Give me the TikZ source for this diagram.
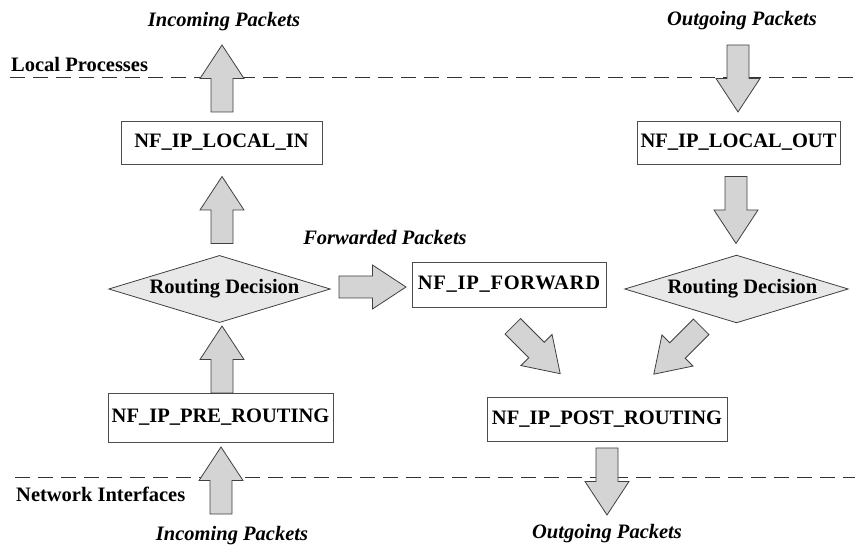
\documentclass[tikz,border=0pt]{standalone}
\usepackage{fontspec}
\setmainfont{Liberation Serif}
\usetikzlibrary{shapes.geometric}

\tikzset{
  basefont/.style={font=\fontsize{20.5}{24}\selectfont},
  hook/.style={basefont, font=\bfseries\fontsize{20.5}{24}\selectfont,
    draw=black!70, line width=0.8pt, fill=white, inner sep=0pt},
  decision/.style={diamond, shape aspect=3.3, draw=black!75, line width=0.8pt,
    fill=black!9, inner sep=0pt, font=\bfseries\fontsize{20.5}{24}\selectfont},
  flowlabel/.style={font=\bfseries\itshape\fontsize{20.5}{24}\selectfont, inner sep=0pt},
  zonelabel/.style={font=\bfseries\fontsize{20.5}{24}\selectfont, inner sep=0pt, anchor=west},
  boundary/.style={draw=black!80, line width=0.8pt, dash pattern=on 15pt off 8pt},
  flowfill/.style={draw=black!75, line width=0.8pt, fill=black!17, line join=miter},
  flow/.pic={
    \draw[flowfill] (-33.5,-11) -- (0,-11) -- (0,-22) -- (33.5,0)
      -- (0,22) -- (0,11) -- (-33.5,11) -- cycle;
  }
}

\begin{document}
\begin{tikzpicture}[x=1pt,y=-1pt]
\useasboundingbox (0,0) rectangle (855,545);

% zone boundaries
\coordinate (topL) at (10,77);
\coordinate (topR) at (855,77);
\coordinate (botL) at (15,477);
\coordinate (botR) at (855,477);
\draw[boundary] (topL) -- (topR);
\draw[boundary] (botL) -- (botR);

\node[zonelabel] (lp) at (11,64) {Local Processes};
\node[zonelabel] (ni) at (16,494) {Network Interfaces};

% hooks
\node[hook, minimum width=201pt, minimum height=43pt] (localin)  at (221.5,142.5) {NF\_IP\_LOCAL\_IN};
\node[hook, minimum width=203pt, minimum height=43pt] (localout) at (738.5,142.5) {NF\_IP\_LOCAL\_OUT};
\node[hook, minimum width=194pt, minimum height=45pt] (forward)  at (509,284.5)
  {\addfontfeature{LetterSpace=3.5}NF\_IP\_FORWARD};
\node[hook, minimum width=225pt, minimum height=49pt] (prerout)  at (220.5,417.5) {NF\_IP\_PRE\_ROUTING};
\node[hook, minimum width=240pt, minimum height=44pt] (postrout) at (607,419) {NF\_IP\_POST\_ROUTING};

% routing decisions
\node[decision, minimum width=219pt, minimum height=66pt] (rdleft)  at (219.5,289) {\hspace*{10pt}Routing Decision};
\node[decision, minimum width=221pt, minimum height=66pt] (rdright) at (736.5,289) {\hspace*{12pt}Routing Decision};

% packet labels
\node[flowlabel] (inTop)  at (224,22)  {Incoming Packets};
\node[flowlabel] (outTop) at (742,21)  {Outgoing Packets};
\node[flowlabel] (fwd)    at (385,237) {Forwarded Packets};
\node[flowlabel] (inBot)  at (232,536) {Incoming Packets};
\node[flowlabel] (outBot) at (607,534) {Outgoing Packets};

% packet flow arrows
\pic (a1) [rotate=90]   at (222,78.5)   {flow};
\pic (a2) [rotate=90]   at (222,210)    {flow};
\pic (a3) [rotate=90]   at (222,359.5)  {flow};
\pic (a4) [rotate=90]   at (221,480.5)  {flow};
\pic (a5) [rotate=-90]  at (738,78.5)   {flow};
\pic (a6) [rotate=-90]  at (736,210)    {flow};
\pic (a7) [rotate=-90]  at (607,481.5)  {flow};
\pic (a8) [rotate=0]    at (372.5,287)  {flow};
\pic (a9) [rotate=-45]  at (536.5,350)  {flow};
\pic (a10)[rotate=-135] at (677.5,350.5){flow};
\end{tikzpicture}
\end{document}
